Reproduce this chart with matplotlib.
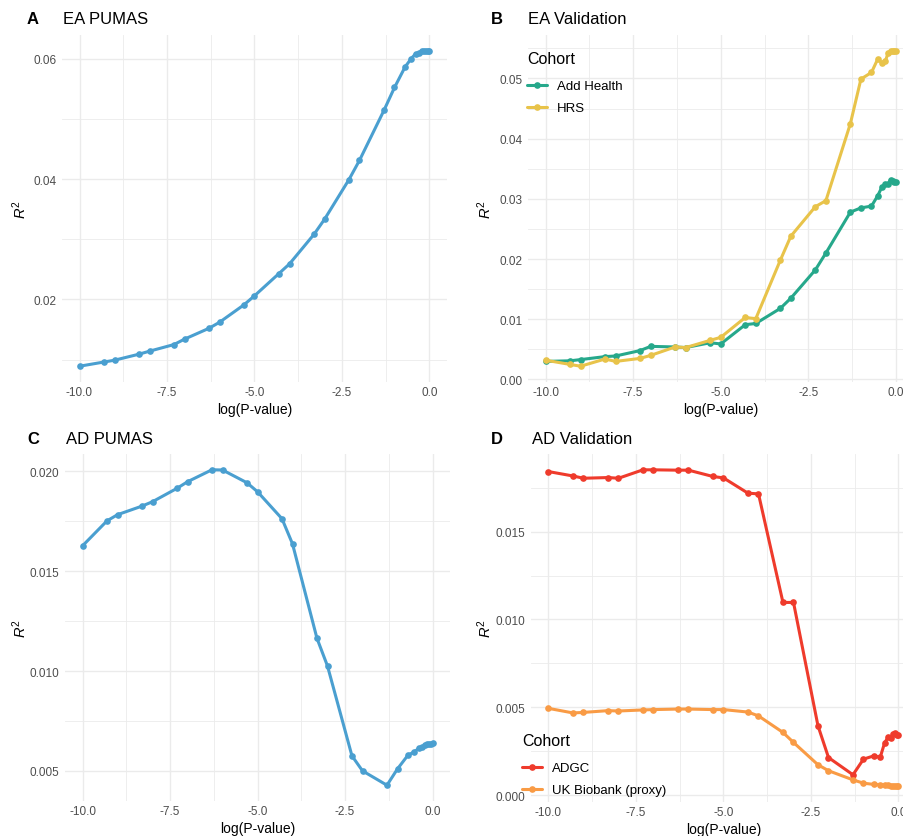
import numpy as np
import matplotlib
matplotlib.use("Agg")
import matplotlib.pyplot as plt
from matplotlib.ticker import MultipleLocator, FormatStrFormatter

plt.rcParams["font.family"] = ["Liberation Sans", "DejaVu Sans"]
plt.rcParams["mathtext.fontset"] = "custom"
plt.rcParams["mathtext.rm"] = "Liberation Sans"
plt.rcParams["mathtext.it"] = "Liberation Sans:italic"

# P-value thresholds used for the polygenic score curves
p_thresholds = [1e-10, 5e-10, 1e-9, 5e-9, 1e-8, 5e-8, 1e-7, 5e-7, 1e-6, 5e-6,
                1e-5, 5e-5, 1e-4, 5e-4, 1e-3, 5e-3, 1e-2, 5e-2, 0.1, 0.2,
                0.3, 0.4, 0.5, 0.6, 0.7, 0.8, 0.9, 1.0]
log_p = np.log10(p_thresholds)

ea_pumas = [0.0089, 0.0096, 0.0099, 0.0109, 0.0114, 0.0125, 0.0134, 0.0152,
            0.0162, 0.0191, 0.0206, 0.0243, 0.0259, 0.0308, 0.0333, 0.0399,
            0.0431, 0.0514, 0.0552, 0.0586, 0.0600, 0.0608, 0.0610, 0.0612,
            0.0613, 0.0613, 0.0613, 0.0612]

ea_add_health = [0.0030, 0.0031, 0.0033, 0.0038, 0.0039, 0.0048, 0.0055, 0.0054,
                 0.0053, 0.0061, 0.0059, 0.0091, 0.0093, 0.0118, 0.0135, 0.0182,
                 0.0210, 0.0278, 0.0285, 0.0288, 0.0305, 0.0320, 0.0324, 0.0325,
                 0.0332, 0.0329, 0.0328, 0.0328]
ea_hrs = [0.0032, 0.0025, 0.0022, 0.0034, 0.0030, 0.0035, 0.0040, 0.0054,
          0.0053, 0.0065, 0.0070, 0.0103, 0.0101, 0.0198, 0.0238, 0.0287,
          0.0297, 0.0425, 0.0499, 0.0510, 0.0532, 0.0526, 0.0529, 0.0543,
          0.0545, 0.0546, 0.0546, 0.0545]

ad_pumas = [0.01627, 0.01752, 0.01783, 0.01826, 0.01848, 0.01915, 0.01948, 0.02008,
            0.02007, 0.01943, 0.01898, 0.01763, 0.01637, 0.01164, 0.01025, 0.00575,
            0.00500, 0.00428, 0.00510, 0.00579, 0.00595, 0.00612, 0.00620, 0.00627,
            0.00632, 0.00635, 0.00636, 0.00637]

ad_adgc = [0.01842, 0.01817, 0.01804, 0.01808, 0.01804, 0.01852, 0.01852, 0.01850,
           0.01850, 0.01814, 0.01806, 0.01719, 0.01715, 0.01097, 0.01097, 0.00395,
           0.00214, 0.00116, 0.00205, 0.00224, 0.00215, 0.00297, 0.00329, 0.00323,
           0.00346, 0.00352, 0.00344, 0.00342]
ad_ukb = [0.00494, 0.00468, 0.00471, 0.00481, 0.00479, 0.00485, 0.00487, 0.00490,
          0.00490, 0.00487, 0.00487, 0.00473, 0.00451, 0.00357, 0.00300, 0.00173,
          0.00139, 0.00087, 0.00068, 0.00061, 0.00059, 0.00057, 0.00055, 0.00053,
          0.00053, 0.00051, 0.00051, 0.00051]

x_ticks = [-10.0, -7.5, -5.0, -2.5, 0.0]

BLUE = "#4a9fd0"
TEAL = "#26a88b"
GOLD = "#e8c34a"
RED = "#ef3b2c"
ORANGE = "#f99b45"
GRID = "#ebebeb"

W, H = 904, 837
fig = plt.figure(figsize=(W / 100, H / 100), dpi=100)
fig.patch.set_facecolor("white")


def px_axes(left, top, right, bottom):
    return fig.add_axes([left / W, 1 - bottom / H, (right - left) / W, (bottom - top) / H])


def fig_px(x, y):
    return x / W, 1 - y / H


def style_axes(ax, series, major, minor, fmt, ylabel_x):
    allv = np.concatenate([np.asarray(s) for s in series])
    lo, hi = allv.min(), allv.max()
    pad = (hi - lo) * 0.05
    ax.set_ylim(lo - pad, hi + pad)
    ax.set_xlim(-10.5, 0.5)
    ax.set_xticks(x_ticks)
    ax.xaxis.set_major_formatter(FormatStrFormatter("%.1f"))
    ax.xaxis.set_minor_locator(MultipleLocator(1.25))
    ax.yaxis.set_major_locator(MultipleLocator(major))
    ax.yaxis.set_minor_locator(MultipleLocator(minor))
    ax.yaxis.set_major_formatter(FormatStrFormatter(fmt))
    for sp in ax.spines.values():
        sp.set_visible(False)
    ax.grid(True, which="major", color=GRID, linewidth=1.0, zorder=0)
    ax.grid(True, which="minor", color=GRID, linewidth=0.6, zorder=0)
    ax.set_axisbelow(True)
    ax.tick_params(which="both", length=0)
    ax.tick_params(axis="both", labelsize=8.5, labelcolor="#4d4d4d")
    ax.tick_params(axis="x", pad=3)
    ax.tick_params(axis="y", pad=4)
    ax.set_xlabel("log(P-value)", fontsize=10, labelpad=3)
    ax.set_ylabel("$R^2$", fontsize=10.5)
    bb = ax.get_position()
    ax.yaxis.set_label_coords((ylabel_x / W - bb.x0) / bb.width, 0.5)


def draw(ax, y, color, label=None):
    ax.plot(log_p, y, color=color, linewidth=2.2, marker="o", markersize=4.8,
            markeredgewidth=0, label=label, zorder=3, solid_capstyle="round")


# Panel A
axA = px_axes(62, 36, 447, 383)
draw(axA, ea_pumas, BLUE)
style_axes(axA, [ea_pumas], 0.02, 0.01, "%.2f", 29)

# Panel B
axB = px_axes(528, 36, 913.5, 383)
draw(axB, ea_add_health, TEAL, "Add Health")
draw(axB, ea_hrs, GOLD, "HRS")
style_axes(axB, [ea_add_health, ea_hrs], 0.01, 0.005, "%.2f", 494)

# Panel C
axC = px_axes(65, 455, 450, 802)
draw(axC, ad_pumas, BLUE)
style_axes(axC, [ad_pumas], 0.005, 0.0025, "%.3f", 29)

# Panel D
axD = px_axes(531, 455, 916, 803)
draw(axD, ad_adgc, RED, "ADGC")
draw(axD, ad_ukb, ORANGE, "UK Biobank (proxy)")
style_axes(axD, [ad_adgc, ad_ukb], 0.005, 0.0025, "%.3f", 494)

# Panel tags and titles
for tag, tx, ty in [("A", 33, 20), ("B", 497, 20), ("C", 33, 440), ("D", 497, 440)]:
    fig.text(*fig_px(tx, ty), tag, fontsize=12, fontweight="bold", ha="center", va="center")
for title, tx, ty in [("EA PUMAS", 63, 20), ("EA Validation", 528, 20),
                      ("AD PUMAS", 66, 440), ("AD Validation", 532, 440)]:
    fig.text(*fig_px(tx, ty), title, fontsize=12, ha="left", va="center")


def cohort_legend(ax, anchor_px):
    leg = ax.legend(title="Cohort", loc="upper left",
                    bbox_to_anchor=fig_px(*anchor_px), bbox_transform=fig.transFigure,
                    frameon=False, fontsize=9.5, title_fontsize=11.5,
                    handlelength=1.5, handletextpad=0.75, labelspacing=0.75,
                    borderpad=0, borderaxespad=0, alignment="left")
    # extra room between the legend title and its entries
    leg._legend_box.sep = 10
    return leg


cohort_legend(axB, (527, 52))
cohort_legend(axD, (522, 734))

fig.savefig("out.png", dpi=100, facecolor="white")
